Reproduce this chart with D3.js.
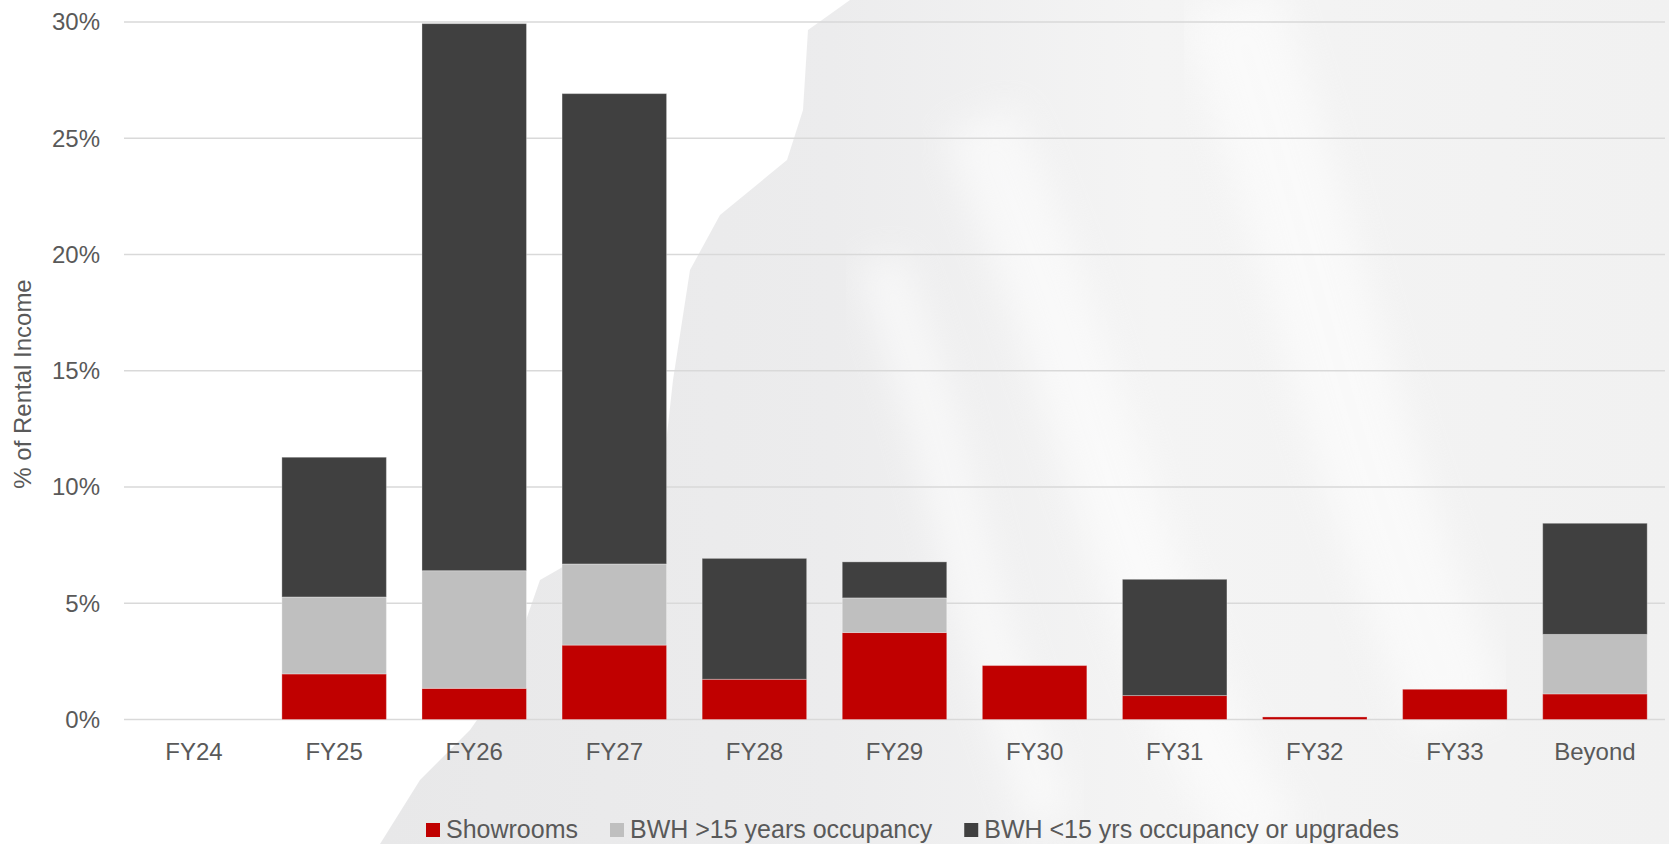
<!DOCTYPE html>
<html>
<head>
<meta charset="utf-8">
<script src="https://cdn.jsdelivr.net/npm/d3@7"></script>
<style>
  body { margin: 0; background: #ffffff; }
  svg { display: block; font-family: "Liberation Sans", Arial, sans-serif; }
</style>
</head>
<body>
<svg></svg>
<script>
// data (% of rental income)
var categories = ['FY24', 'FY25', 'FY26', 'FY27', 'FY28', 'FY29', 'FY30', 'FY31', 'FY32', 'FY33', 'Beyond']
var showrooms  = [0, 1.96, 1.34, 3.20, 1.73, 3.74, 2.32, 1.03, 0.11, 1.30, 1.10]
var bwhOver15  = [0, 3.31, 5.06, 3.49, 0, 1.49, 0, 0, 0, 0, 2.56]
var bwhUnder15 = [0, 6.01, 23.53, 20.23, 5.20, 1.55, 0, 5.00, 0, 0, 4.78]
var seriesNames = ['Showrooms', 'BWH >15 years occupancy', 'BWH <15 yrs occupancy or upgrades']
var seriesColors = ['#c00000', '#bfbfbf', '#404040']
var yTicks = [0, 5, 10, 15, 20, 25, 30]

var svgWidth = 1669, svgHeight = 844
var margin = { left: 124, right: 4, top: 22, bottom: 124.5 }

var svg = d3.select('svg')
    .attr('width', svgWidth)
    .attr('height', svgHeight)

// marble-ish backdrop on the right side
var defs = svg.append('defs')
var grad = defs.append('linearGradient')
    .attr('id', 'marble')
    .attr('x1', '0%').attr('x2', '100%').attr('y1', '0%').attr('y2', '0%')
grad.append('stop').attr('offset', '0%').attr('stop-color', '#e8e8e9')
grad.append('stop').attr('offset', '35%').attr('stop-color', '#ececed')
grad.append('stop').attr('offset', '60%').attr('stop-color', '#f4f4f4')
grad.append('stop').attr('offset', '100%').attr('stop-color', '#f1f1f1')

defs.append('filter')
    .attr('id', 'soft')
    .attr('x', '-20%').attr('y', '-20%').attr('width', '140%').attr('height', '140%')
    .append('feGaussianBlur')
    .attr('stdDeviation', 18)

var edge = [[850, 0], [808, 30], [803, 110], [787, 160], [720, 215], [690, 270], [673, 380],
            [662, 480], [610, 540], [540, 580], [505, 680], [470, 730], [420, 780], [380, 844],
            [1669, 844], [1669, 0]]
svg.append('path')
    .attr('d', d3.line()(edge) + 'Z')
    .style('fill', 'url(#marble)')

// a few soft lighter streaks
var streaks = [
    [[980, 120], [1060, 320], [1120, 520], [1210, 760], [1270, 844]],
    [[1230, 0], [1300, 220], [1360, 450], [1460, 720]],
    [[880, 260], [940, 430], [980, 620], [1050, 820]]
]
svg.selectAll('path.streak')
    .data(streaks)
    .enter()
    .append('path')
    .attr('class', 'streak')
    .attr('d', d3.line().curve(d3.curveBasis))
    .attr('filter', 'url(#soft)')
    .style('fill', 'none')
    .style('stroke', '#ffffff')
    .style('stroke-width', function(d, i) { return [80, 100, 50][i] })
    .style('opacity', 0.55)

// scales
var xScale = d3.scaleBand()
    .domain(categories)
    .range([margin.left, svgWidth - margin.right])
    .paddingInner(0.254)
    .paddingOuter(0.127)

var yScale = d3.scaleLinear()
    .domain([0, 30])
    .range([svgHeight - margin.bottom, margin.top])

// gridlines
svg.append('g')
    .selectAll('line')
    .data(yTicks)
    .enter()
    .append('line')
    .attr('x1', margin.left)
    .attr('x2', svgWidth - margin.right)
    .attr('y1', function(d) { return yScale(d) })
    .attr('y2', function(d) { return yScale(d) })
    .style('stroke', '#d9d9d9')
    .style('stroke-width', 1.5)

// y tick labels
svg.append('g')
    .selectAll('text')
    .data(yTicks)
    .enter()
    .append('text')
    .text(function(d) { return d + '%' })
    .attr('x', 100)
    .attr('y', function(d) { return yScale(d) })
    .attr('dy', '0.35em')
    .attr('text-anchor', 'end')
    .style('font-size', '24px')
    .style('fill', '#595959')

// y title
svg.append('text')
    .text('% of Rental Income')
    .attr('transform', 'translate(31,384) rotate(-90)')
    .attr('text-anchor', 'middle')
    .style('font-size', '24px')
    .style('fill', '#595959')

// stacked bars
var table = categories.map(function(c, i) {
    return { cat: c, s0: showrooms[i], s1: bwhOver15[i], s2: bwhUnder15[i] }
})
var stacked = d3.stack().keys(['s0', 's1', 's2'])(table)

svg.append('g')
    .selectAll('g')
    .data(stacked)
    .enter()
    .append('g')
    .style('fill', function(d, i) { return seriesColors[i] })
    .selectAll('rect')
    .data(function(d) { return d.filter(function(p) { return p[1] - p[0] > 0 }) })
    .enter()
    .append('rect')
    .attr('x', function(d) { return xScale(d.data.cat) })
    .attr('width', xScale.bandwidth())
    .attr('y', function(d) { return yScale(d[1]) })
    .attr('height', function(d) { return yScale(d[0]) - yScale(d[1]) })
    .style('stroke', '#ffffff')
    .style('stroke-opacity', 0.3)
    .style('stroke-width', 1)

// x labels
svg.append('g')
    .selectAll('text')
    .data(categories)
    .enter()
    .append('text')
    .text(function(d) { return d })
    .attr('x', function(d) { return xScale(d) + xScale.bandwidth() / 2 })
    .attr('y', 760)
    .attr('text-anchor', 'middle')
    .style('font-size', '24px')
    .style('fill', '#595959')

// legend
var legend = svg.append('g')
var lx = 426
seriesNames.forEach(function(name, i) {
    legend.append('rect')
        .attr('x', lx)
        .attr('y', 823)
        .attr('width', 14)
        .attr('height', 14)
        .style('fill', seriesColors[i])
    var t = legend.append('text')
        .text(name)
        .attr('x', lx + 20)
        .attr('y', 838)
        .style('font-size', '25px')
        .style('fill', '#595959')
    lx = lx + 20 + t.node().getComputedTextLength() + 32
})
</script>
</body>
</html>
